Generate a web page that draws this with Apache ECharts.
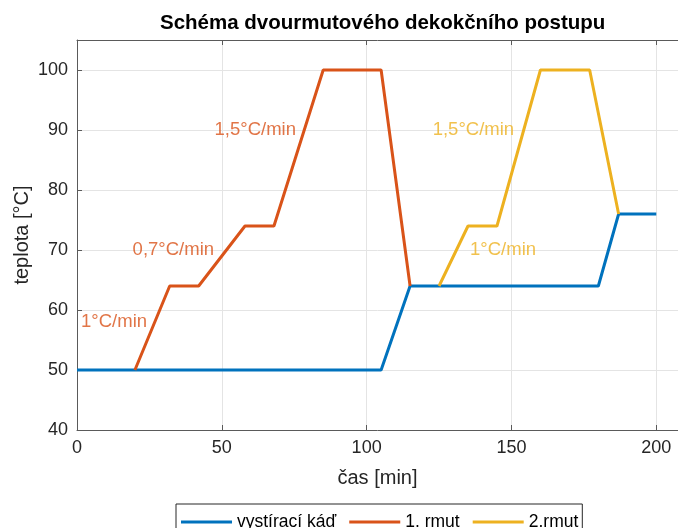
<!DOCTYPE html>
<html>
<head>
<meta charset="utf-8">
<script src="https://cdn.jsdelivr.net/npm/echarts@6/dist/echarts.min.js"></script>
<style>html,body{margin:0;padding:0;background:#fff}#c{width:678px;height:528px}</style>
</head>
<body>
<div id="c"></div>
<script>
var titleText = 'Schéma dvourmutového dekokčního postupu';
var xName = 'čas [min]';
var yName = 'teplota [°C]';
var xTicks = [0, 50, 100, 150, 200];
var yTicks = [40, 50, 60, 70, 80, 90, 100];

var kadT = [0, 105, 115, 180, 187, 200];
var kadV = [50, 50, 64, 64, 76, 76];
var rmut1T = [20, 32, 42, 58, 68, 85, 105, 115];
var rmut1V = [50, 64, 64, 74, 74, 100, 100, 64];
var rmut2T = [125, 135, 145, 160, 177, 187];
var rmut2V = [64, 74, 74, 100, 100, 76];

var seriesNames = ['vystírací káď', '1. rmut', '2.rmut'];
var seriesColors = ['#0072BD', '#D95319', '#EDB120'];

var annoX = [1.4, 19.2, 47.5, 122.8, 135.7];
var annoY = [58, 70, 90, 90, 70];
var annoText = ['1°C/min', '0,7°C/min', '1,5°C/min', '1,5°C/min', '1°C/min'];
var annoColorIdx = [1, 1, 1, 2, 2];

function zip(a, b) { return a.map(function (v, i) { return [v, b[i]]; }); }

var font = 'Liberation Sans, Arial, Helvetica, sans-serif';
var txt = '#262626';
var axisCol = '#5a5a5a';
var gridCol = '#e4e4e4';

var series = [
  { name: seriesNames[0], data: zip(kadT, kadV), c: seriesColors[0] },
  { name: seriesNames[1], data: zip(rmut1T, rmut1V), c: seriesColors[1] },
  { name: seriesNames[2], data: zip(rmut2T, rmut2V), c: seriesColors[2] }
].map(function (s) {
  return {
    type: 'line', name: s.name, data: s.data, xAxisIndex: 0, yAxisIndex: 0,
    showSymbol: false, symbol: 'none', animation: false,
    lineStyle: { color: s.c, width: 3 }, itemStyle: { color: s.c }, z: 3
  };
});

annoText.forEach(function (t, i) {
  series.push({
    type: 'scatter', name: 'anno' + i, xAxisIndex: 0, yAxisIndex: 0,
    data: [[annoX[i], annoY[i]]], symbolSize: 0, animation: false, silent: true,
    label: {
      show: true, position: 'right', distance: 0, formatter: t,
      color: seriesColors[annoColorIdx[i]], fontSize: 18.5, fontFamily: font
    }, z: 4
  });
});

var chart = echarts.init(document.getElementById('c'), null, { renderer: 'canvas' });
chart.setOption({
  backgroundColor: '#fff',
  animation: false,
  title: {
    text: titleText, left: 155, top: 8,
    textStyle: { fontFamily: font, fontSize: 20.5, fontWeight: 'bold', color: '#000' }
  },
  legend: {
    data: seriesNames, left: 176, top: 504, orient: 'horizontal',
    icon: 'rect', itemWidth: 51, itemHeight: 3, itemGap: 13,
    borderColor: '#262626', borderWidth: 1, padding: [9, 4, 9, 5],
    backgroundColor: '#fff',
    textStyle: { fontFamily: font, fontSize: 17.5, color: '#000' }
  },
  grid: { left: 77, top: 40, width: 601, height: 390, containLabel: false, outerBoundsMode: 'none' },
  xAxis: [{
    type: 'value', min: 0, max: 207.5, interval: 50, position: 'bottom',
    name: xName, nameLocation: 'middle', nameGap: 38, nameMoveOverlap: false,
    nameTextStyle: { fontFamily: font, fontSize: 20, color: txt },
    axisLine: { show: true, lineStyle: { color: axisCol, width: 1 } },
    axisTick: { show: true, inside: true, length: 5, lineStyle: { color: axisCol } },
    axisLabel: {
      margin: 9, fontFamily: font, fontSize: 18, color: txt, showMaxLabel: false,
      formatter: function (v) { return xTicks.indexOf(v) >= 0 ? String(v) : ''; }
    },
    splitLine: { show: true, showMinLine: false, showMaxLine: false, lineStyle: { color: gridCol, width: 1 } }
  }, {
    type: 'value', min: 0, max: 207.5, interval: 50, position: 'top',
    axisLine: { show: true, lineStyle: { color: axisCol, width: 1 } },
    axisTick: { show: true, inside: true, length: 5, lineStyle: { color: axisCol } },
    axisLabel: { show: false }, splitLine: { show: false }
  }],
  yAxis: [{
    type: 'value', min: 40, max: 105, interval: 10,
    name: yName, nameLocation: 'middle', nameGap: 45, nameRotate: 90, nameMoveOverlap: false,
    nameTextStyle: { fontFamily: font, fontSize: 20, color: txt },
    axisLine: { show: true, lineStyle: { color: axisCol, width: 1 } },
    axisTick: { show: true, inside: true, length: 5, lineStyle: { color: axisCol } },
    axisLabel: {
      margin: 9, fontFamily: font, fontSize: 18, color: txt, showMaxLabel: false,
      formatter: function (v) { return yTicks.indexOf(v) >= 0 ? String(v) : ''; }
    },
    splitLine: { show: true, showMinLine: false, showMaxLine: false, lineStyle: { color: gridCol, width: 1 } }
  }],
  series: series
});
</script>
</body>
</html>
